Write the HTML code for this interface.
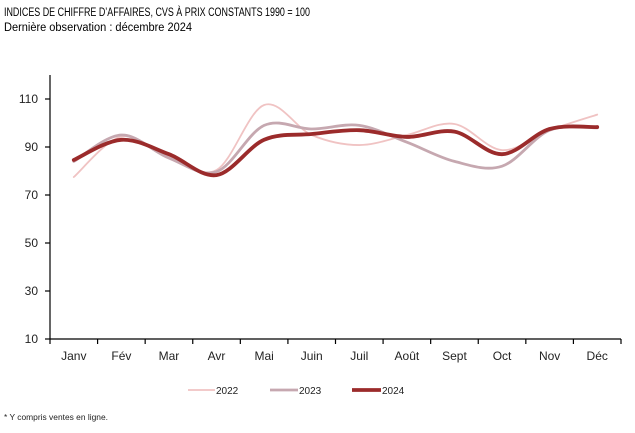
<!DOCTYPE html>
<html><head><meta charset="utf-8"><style>
html,body{margin:0;padding:0;background:#fff;}
svg{display:block;font-family:"Liberation Sans",sans-serif;}
</style></head><body>
<svg id="c" width="635" height="433" viewBox="0 0 635 433" xmlns="http://www.w3.org/2000/svg">
<rect width="635" height="433" fill="#fff"/>
<text x="4" y="16" font-size="11.5" fill="#000" textLength="306" lengthAdjust="spacingAndGlyphs">INDICES DE CHIFFRE D’AFFAIRES, CVS À PRIX CONSTANTS 1990 = 100</text>
<text x="4" y="31" font-size="11.5" fill="#000" textLength="188" lengthAdjust="spacingAndGlyphs">Dernière observation : décembre 2024</text>
<g stroke="#000" stroke-width="1.2" fill="none">
<line x1="50" y1="75" x2="50" y2="339.5"/>
<line x1="50" y1="339" x2="621" y2="339"/>
<line x1="45" y1="99" x2="50" y2="99"/>
<line x1="45" y1="147" x2="50" y2="147"/>
<line x1="45" y1="195" x2="50" y2="195"/>
<line x1="45" y1="243" x2="50" y2="243"/>
<line x1="45" y1="291" x2="50" y2="291"/>
<line x1="45" y1="339" x2="50" y2="339"/>
</g>
<g id="xt" stroke="#000" stroke-width="1.2"></g>
<g font-size="12" fill="#222" text-anchor="end">
<text x="38" y="103">110</text>
<text x="38" y="151">90</text>
<text x="38" y="199">70</text>
<text x="38" y="247">50</text>
<text x="38" y="295">30</text>
<text x="38" y="343">10</text>
</g>
<g id="xl" font-size="12" fill="#222" text-anchor="middle"></g>
<path id="p22" fill="none" stroke="#f0c3c3" stroke-width="1.8" stroke-linecap="round"/>
<path id="p23" fill="none" stroke="#c6a8b0" stroke-width="2.8" stroke-linecap="round"/>
<path id="p24" fill="none" stroke="#9b2b2b" stroke-width="3.8" stroke-linecap="round"/>
<line x1="188" y1="390" x2="215" y2="390" stroke="#f0c3c3" stroke-width="1.8"/>
<text x="216" y="394" font-size="10" fill="#222">2022</text>
<line x1="270" y1="390" x2="298" y2="390" stroke="#c6a8b0" stroke-width="2.8"/>
<text x="299" y="394" font-size="10" fill="#222">2023</text>
<line x1="352" y1="390" x2="381" y2="390" stroke="#9b2b2b" stroke-width="3.8"/>
<text x="382" y="394" font-size="10" fill="#222">2024</text>
<text x="4" y="420" font-size="8" fill="#222" textLength="104" lengthAdjust="spacingAndGlyphs">* Y compris ventes en ligne.</text>
</svg>
<script>
(function(){
var ns="http://www.w3.org/2000/svg";
var x0=50,w=571/12;
var months=["Janv","Fév","Mar","Avr","Mai","Juin","Juil","Août","Sept","Oct","Nov","Déc"];
var xt=document.getElementById("xt"),xl=document.getElementById("xl");
for(var i=0;i<=12;i++){var l=document.createElementNS(ns,"line");var x=x0+w*i;
l.setAttribute("x1",x);l.setAttribute("x2",x);l.setAttribute("y1",339);l.setAttribute("y2",344);xt.appendChild(l);}
for(var i=0;i<12;i++){var t=document.createElementNS(ns,"text");t.setAttribute("x",x0+w*(i+0.5));t.setAttribute("y",360);t.textContent=months[i];xl.appendChild(t);}
function Y(v){return 339-(v-10)*2.4;}
function path(vals){
var p=vals.map(function(v,i){return [x0+w*(i+0.5),Y(v)];});
var d="M"+p[0][0].toFixed(2)+","+p[0][1].toFixed(2);
for(var i=0;i<p.length-1;i++){
var a=p[i-1]||p[i],b=p[i],c=p[i+1],e=p[i+2]||p[i+1];
var c1=[b[0]+(c[0]-a[0])/6,b[1]+(c[1]-a[1])/6];
var c2=[c[0]-(e[0]-b[0])/6,c[1]-(e[1]-b[1])/6];
d+=" C"+c1[0].toFixed(2)+","+c1[1].toFixed(2)+" "+c2[0].toFixed(2)+","+c2[1].toFixed(2)+" "+c[0].toFixed(2)+","+c[1].toFixed(2);}
return d;}
document.getElementById("p22").setAttribute("d",path([77.5,94.3,86,80.4,107.5,95,90.8,95,99.6,88.7,97,103.5]));
document.getElementById("p23").setAttribute("d",path([84,95,85.4,79.7,99,97.5,99,92,84,82,97,98]));
document.getElementById("p24").setAttribute("d",path([84.6,93,87,78.3,93,95.4,97,94.2,96.4,87,97.5,98.3]));
})();
</script>
</body></html>
